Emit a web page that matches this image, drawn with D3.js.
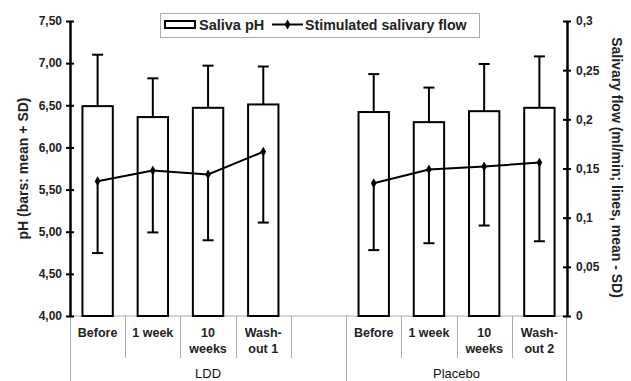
<!DOCTYPE html>
<html>
<head>
<meta charset="utf-8">
<script src="https://cdn.jsdelivr.net/npm/d3@7"></script>
<style>
  body { margin: 0; background: #fff; }
  svg { font-family: "Liberation Sans", Arial, sans-serif; font-weight: bold; }
</style>
</head>
<body>
<svg id="chart"></svg>
<script>
// data
const groups = ["LDD", "Placebo"];
const ldd_labels = [["Before"], ["1 week"], ["10", "weeks"], ["Wash-", "out 1"]];
const placebo_labels = [["Before"], ["1 week"], ["10", "weeks"], ["Wash-", "out 2"]];

const ldd_ph = [6.49, 6.36, 6.47, 6.51];
const ldd_ph_sd = [0.61, 0.46, 0.50, 0.45];
const placebo_ph = [6.42, 6.30, 6.43, 6.47];
const placebo_ph_sd = [0.45, 0.41, 0.56, 0.61];

const ldd_flow = [0.137, 0.148, 0.144, 0.167];
const ldd_flow_sd = [0.073, 0.063, 0.067, 0.072];
const placebo_flow = [0.135, 0.149, 0.152, 0.156];
const placebo_flow_sd = [0.068, 0.075, 0.060, 0.080];

const ph_ticks = [4, 4.5, 5, 5.5, 6, 6.5, 7, 7.5];
const flow_ticks = [0, 0.05, 0.1, 0.15, 0.2, 0.25, 0.3];

// setting up svg
const w = 631, h = 381;
const m = { top: 21, right: 64, bottom: 65, left: 70 };
const svg = d3.select("#chart").attr("width", w).attr("height", h);

// build slots: LDD has an empty slot after it
const rows = [];
ldd_labels.forEach((l, i) => rows.push({ key: "LDD" + i, group: "LDD", label: l, ph: ldd_ph[i], phsd: ldd_ph_sd[i], flow: ldd_flow[i], flowsd: ldd_flow_sd[i] }));
const gapKey = "LDDgap";
placebo_labels.forEach((l, i) => rows.push({ key: "P" + i, group: "Placebo", label: l, ph: placebo_ph[i], phsd: placebo_ph_sd[i], flow: placebo_flow[i], flowsd: placebo_flow_sd[i] }));
const slots = rows.slice(0, 4).map(d => d.key).concat([gapKey], rows.slice(4).map(d => d.key));

const x = d3.scaleBand().domain(slots).range([m.left, w - m.right]).padding(0);
const yL = d3.scaleLinear().domain([4, 7.5]).range([h - m.bottom, m.top]);
const yR = d3.scaleLinear().domain([0, 0.3]).range([h - m.bottom, m.top]);
const bw = x.bandwidth() * 0.55;
const cx = d => x(d.key) + x.bandwidth() / 2;
const base = h - m.bottom;
const grey = "#aaa";

// category grid under the axis
svg.append("line").attr("x1", m.left).attr("x2", w - m.right).attr("y1", base).attr("y2", base)
  .attr("stroke", grey).attr("stroke-width", 1);
const longDiv = [slots[0], slots[5]];
slots.forEach((k, i) => {
  if (i === 0) return;
  const xx = Math.round(x(k)) + 0.5;
  const long = longDiv.includes(k);
  svg.append("line").attr("x1", xx).attr("x2", xx).attr("y1", base).attr("y2", long ? h : base + 42)
    .attr("stroke", grey).attr("stroke-width", 1);
});
svg.append("line").attr("x1", m.left + 0.5).attr("x2", m.left + 0.5).attr("y1", base).attr("y2", h)
  .attr("stroke", grey);
svg.append("line").attr("x1", w - m.right - 0.5).attr("x2", w - m.right - 0.5).attr("y1", base).attr("y2", h)
  .attr("stroke", grey);

// bars
svg.selectAll(".bar").data(rows).join("rect")
  .attr("x", d => cx(d) - bw / 2)
  .attr("width", bw)
  .attr("y", d => yL(d.ph))
  .attr("height", d => base - yL(d.ph))
  .attr("fill", "#fff").attr("stroke", "#000").attr("stroke-width", 2);

// error bars: bars get mean + SD, line points get mean - SD
const eb = svg.append("g").attr("stroke", "#000").attr("stroke-width", 2);
rows.forEach(d => {
  eb.append("line").attr("x1", cx(d)).attr("x2", cx(d)).attr("y1", yL(d.ph)).attr("y2", yL(d.ph + d.phsd));
  eb.append("line").attr("x1", cx(d) - 5.5).attr("x2", cx(d) + 5.5).attr("y1", yL(d.ph + d.phsd)).attr("y2", yL(d.ph + d.phsd));
  eb.append("line").attr("x1", cx(d)).attr("x2", cx(d)).attr("y1", yR(d.flow)).attr("y2", yR(d.flow - d.flowsd));
  eb.append("line").attr("x1", cx(d) - 5.5).attr("x2", cx(d) + 5.5).attr("y1", yR(d.flow - d.flowsd)).attr("y2", yR(d.flow - d.flowsd));
});

// flow lines, one per group
const line = d3.line().x(cx).y(d => yR(d.flow));
groups.forEach(g => {
  const gd = rows.filter(d => d.group === g);
  svg.append("path").datum(gd).attr("d", line).attr("fill", "none").attr("stroke", "#000").attr("stroke-width", 2);
});
const diamond = d3.symbol().type(d3.symbolDiamond).size(28);
svg.selectAll(".pt").data(rows).join("path")
  .attr("d", diamond)
  .attr("transform", d => `translate(${cx(d)},${yR(d.flow)})`)
  .attr("fill", "#000");

// axes
const fmtL = d => d.toFixed(2).replace(".", ",");
const fmtR = d => String(+d.toFixed(2)).replace(".", ",");
const axL = svg.append("g").attr("transform", `translate(${m.left},0)`)
  .call(d3.axisLeft(yL).tickValues(ph_ticks).tickFormat(fmtL).tickSizeInner(4).tickSizeOuter(0).tickPadding(4));
axL.selectAll(".tick line").attr("x1", 4).attr("stroke-width", 2);
const axR = svg.append("g").attr("transform", `translate(${w - m.right},0)`)
  .call(d3.axisRight(yR).tickValues(flow_ticks).tickFormat(fmtR).tickSizeInner(4).tickSizeOuter(0).tickPadding(5));
axR.selectAll(".tick line").attr("x1", -4).attr("stroke-width", 2);
[axL, axR].forEach(a => {
  a.select(".domain").attr("stroke-width", 2.5);
  a.selectAll("text").attr("font-size", 12).attr("font-weight", "bold").attr("fill", "#222");
});

// category labels
rows.forEach(d => {
  const t = svg.append("text").attr("text-anchor", "middle").attr("font-size", 12.5).attr("fill", "#222");
  d.label.forEach((s, i) => t.append("tspan").attr("x", cx(d)).attr("y", base + 21 + i * 16).text(s));
});
// group labels
const ldStart = x(slots[0]), ldEnd = x(slots[5]);
svg.append("text").attr("x", (ldStart + ldEnd) / 2).attr("y", h - 3).attr("text-anchor", "middle")
  .attr("font-size", 13).attr("font-weight", "normal").attr("fill", "#111").text(groups[0]);
svg.append("text").attr("x", (ldEnd + w - m.right) / 2).attr("y", h - 3).attr("text-anchor", "middle")
  .attr("font-size", 13).attr("font-weight", "normal").attr("fill", "#111").text(groups[1]);

// axis titles
svg.append("text").attr("transform", `translate(28,${(m.top + base) / 2}) rotate(-90)`)
  .attr("text-anchor", "middle").attr("font-size", 14).attr("fill", "#222").text("pH (bars: mean + SD)");
svg.append("text").attr("transform", `translate(612,${(m.top + base) / 2 - 1}) rotate(90)`)
  .attr("text-anchor", "middle").attr("font-size", 14).attr("fill", "#222").text("Salivary flow (ml/min; lines, mean - SD)");

// legend
const lg = svg.append("g");
lg.append("rect").attr("x", 160.5).attr("y", 13.5).attr("width", 319).attr("height", 24)
  .attr("fill", "#fff").attr("stroke", grey);
lg.append("rect").attr("x", 165).attr("y", 21).attr("width", 30).attr("height", 7)
  .attr("fill", "#fff").attr("stroke", "#000").attr("stroke-width", 2);
lg.append("text").attr("x", 199).attr("y", 30).attr("font-size", 14.5).attr("fill", "#222").text("Saliva pH");
lg.append("line").attr("x1", 272).attr("x2", 303).attr("y1", 24.5).attr("y2", 24.5).attr("stroke", "#000").attr("stroke-width", 2);
lg.append("path").attr("d", diamond).attr("transform", "translate(287.5,24.5)").attr("fill", "#000");
lg.append("text").attr("x", 305).attr("y", 30).attr("font-size", 14.2).attr("fill", "#222").text("Stimulated salivary flow");
</script>
</body>
</html>
